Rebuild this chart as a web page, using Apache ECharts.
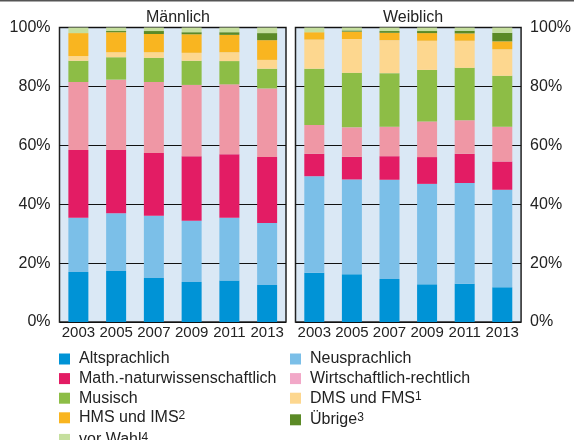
<!DOCTYPE html>
<html>
<head>
<meta charset="utf-8">
<script src="https://cdn.jsdelivr.net/npm/echarts@6/dist/echarts.min.js"></script>
<style>
  html, body { margin: 0; padding: 0; background: #fff; }
  #chart { width: 574px; height: 440px; }
</style>
</head>
<body>
<div id="chart"></div>
<script>
var years = ['2003', '2005', '2007', '2009', '2011', '2013'];
var yTicks = [0, 20, 40, 60, 80, 100];

// Anteile in %, Reihenfolge von unten nach oben
var categories = ['Altsprachlich', 'Neusprachlich', 'Math.-naturwissenschaftlich', 'Wirtschaftlich-rechtlich',
                  'Musisch', 'DMS und FMS', 'HMS und IMS', 'Übrige', 'vor Wahl'];
var colors = ['#0093D6', '#7BBFE8', '#E31C64', '#EF97A5', '#8DBD46', '#FDD78F', '#F9B520', '#5B8A26', '#C5DF9E'];

var maleAlt  = [17.0, 17.3, 14.9, 13.6, 14.1, 12.6];
var maleNeu  = [18.4, 19.6, 21.2, 20.8, 21.3, 21.0];
var maleMath = [23.0, 21.5, 21.3, 21.9, 21.6, 22.4];
var maleWirt = [23.1, 23.9, 24.1, 24.2, 23.7, 23.3];
var maleMus  = [7.2, 7.6, 8.2, 8.2, 7.9, 6.7];
var maleDms  = [1.6, 1.7, 1.9, 2.7, 3.0, 3.0];
var maleHms  = [7.8, 6.8, 6.2, 6.3, 5.9, 6.7];
var maleUebr = [0.0, 0.4, 1.0, 0.7, 0.9, 2.4];
var maleVor  = [1.9, 1.2, 1.2, 1.6, 1.6, 1.9];

var femAlt  = [16.7, 16.2, 14.6, 12.8, 13.0, 11.8];
var femNeu  = [32.8, 32.2, 33.7, 34.1, 34.2, 33.1];
var femMath = [7.6, 7.7, 8.0, 9.1, 9.9, 9.6];
var femWirt = [9.8, 10.0, 10.0, 12.1, 11.4, 11.8];
var femMus  = [19.1, 18.5, 18.2, 17.5, 17.8, 17.3];
var femDms  = [9.9, 11.5, 11.2, 9.9, 9.2, 9.0];
var femHms  = [2.5, 2.5, 2.5, 2.6, 2.5, 2.7];
var femUebr = [0.0, 0.4, 0.6, 0.7, 0.9, 2.9];
var femVor  = [1.6, 1.0, 1.2, 1.2, 1.1, 1.8];

var maleData = [maleAlt, maleNeu, maleMath, maleWirt, maleMus, maleDms, maleHms, maleUebr, maleVor];
var femData  = [femAlt, femNeu, femMath, femWirt, femMus, femDms, femHms, femUebr, femVor];

var font = 'Liberation Sans, Arial, sans-serif';
var myChart = echarts.init(document.getElementById('chart'));

var series = [];
categories.forEach(function (name, i) {
    series.push({
        name: name, type: 'bar', stack: 'm', xAxisIndex: 0, yAxisIndex: 0,
        barWidth: 20, data: maleData[i], itemStyle: { color: colors[i] }
    });
    series.push({
        name: name, type: 'bar', stack: 'w', xAxisIndex: 1, yAxisIndex: 1,
        barWidth: 20, data: femData[i], itemStyle: { color: colors[i] }
    });
});

var sup = { sup: { fontSize: 12, verticalAlign: 'top', lineHeight: 10, padding: [0, 0, 6, 0], color: '#222', fontFamily: font } };
function legendFormat(name) {
    if (name === 'DMS und FMS') return name + '{sup|1}';
    if (name === 'HMS und IMS') return name + '{sup|2}';
    if (name === 'Übrige') return name + '{sup|3}';
    if (name === 'vor Wahl') return name + '{sup|4}';
    return name;
}
function legendItem(name) {
    var item = { name: name };
    if (name === 'Wirtschaftlich-rechtlich') item.itemStyle = { color: '#F2A8C8' };
    return item;
}
var legendText = { fontSize: 16, lineHeight: 16, color: '#222', fontFamily: font, padding: [0, 0, 0, 4], rich: sup };

function yAxis(idx, pos) {
    return {
        type: 'value', gridIndex: idx, position: pos, min: 0, max: 100, interval: 20,
        axisLine: { show: false }, axisTick: { show: false },
        axisLabel: {
            formatter: function (v) { return yTicks.indexOf(v) >= 0 ? v + '%' : ''; },
            fontSize: 16, color: '#222', fontFamily: font, margin: 9
        },
        splitLine: { lineStyle: { color: '#111', width: 1 } }
    };
}
function xAxis(idx) {
    return {
        type: 'category', gridIndex: idx, data: years,
        axisLine: { show: false }, axisTick: { show: false },
        axisLabel: { interval: 0, fontSize: 15, color: '#222', fontFamily: font, margin: 3 }
    };
}

option = {
    backgroundColor: '#fff',
    animation: false,
    title: [
        { text: 'Männlich', left: 173, top: 5, textAlign: 'center',
          textStyle: { fontSize: 16, fontWeight: 'normal', color: '#222', fontFamily: font } },
        { text: 'Weiblich', left: 408, top: 5, textAlign: 'center',
          textStyle: { fontSize: 16, fontWeight: 'normal', color: '#222', fontFamily: font } }
    ],
    grid: [
        { left: 59.5, top: 27.5, width: 226.5, height: 294.5, show: true,
          backgroundColor: '#DAE8F5', borderColor: '#222', borderWidth: 1.5 },
        { left: 295.5, top: 27.5, width: 226, height: 294.5, show: true,
          backgroundColor: '#DAE8F5', borderColor: '#222', borderWidth: 1.5 }
    ],
    xAxis: [xAxis(0), xAxis(1)],
    yAxis: [yAxis(0, 'left'), yAxis(1, 'right')],
    legend: [
        { orient: 'vertical', left: 59, top: 351, height: 110, padding: 0,
          itemWidth: 11, itemHeight: 11, itemGap: 3.6,
          icon: 'rect', selectedMode: false, formatter: legendFormat, textStyle: legendText,
          data: ['Altsprachlich', 'Math.-naturwissenschaftlich', 'Musisch', 'HMS und IMS', 'vor Wahl'].map(legendItem) },
        { orient: 'vertical', left: 290, top: 351, height: 110, padding: 0,
          itemWidth: 11, itemHeight: 11, itemGap: 3.6,
          icon: 'rect', selectedMode: false, formatter: legendFormat, textStyle: legendText,
          data: ['Neusprachlich', 'Wirtschaftlich-rechtlich', 'DMS und FMS', 'Übrige'].map(legendItem) }
    ],
    graphic: [
        { type: 'rect', shape: { x: 0, y: 0, width: 574, height: 1.5 }, style: { fill: '#555' } }
    ],
    series: series
};
myChart.setOption(option);
</script>
</body>
</html>
